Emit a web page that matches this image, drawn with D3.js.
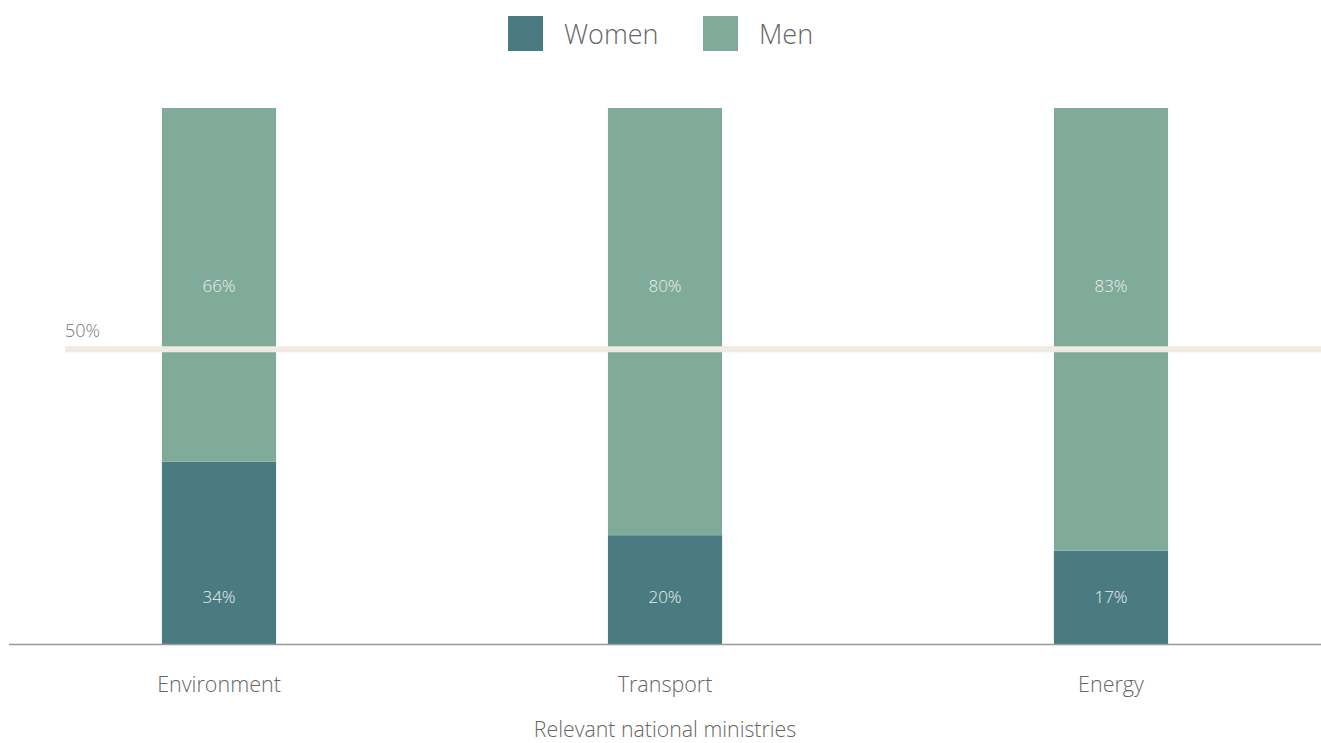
<!DOCTYPE html>
<html>
<head>
<meta charset="utf-8">
<script src="https://cdn.jsdelivr.net/npm/d3@7"></script>
<style>
  html, body { margin: 0; padding: 0; background: #ffffff; }
  svg { display: block; font-family: "Open Sans", "Segoe UI", sans-serif; }
</style>
</head>
<body>
<svg id="chart" width="1321" height="743"></svg>
<script>
// ---- data ----
const categories = ["Environment", "Transport", "Energy"];
const women = [34, 20.3, 17.4];
const men = [66, 79.7, 82.6];
const seriesNames = ["Women", "Men"];
const seriesColors = ["#4a7b83", "#80ab9b"];
const referenceLabel = "50%";
const referenceValue = 55;       // position where the reference line sits in the picture
const labelAnchorValues = [8.8, 66.8]; // value-level at which segment labels are printed
const xAxisTitle = "Relevant national ministries";

// ---- layout ----
const W = 1321, H = 743;
const svg = d3.select("#chart");

const x = d3.scaleBand()
  .domain(categories)
  .range([-4, 1334])
  .paddingInner(0.744)
  .paddingOuter(0.372);

const y = d3.scaleLinear().domain([0, 100]).range([644, 108]);

const stackData = categories.map((c, i) => ({ cat: c, Women: women[i], Men: men[i] }));
const stack = d3.stack().keys(seriesNames)(stackData);

// bars
const g = svg.append("g");
g.selectAll("g.series")
  .data(stack)
  .join("g")
  .attr("class", "series")
  .attr("fill", (d, i) => seriesColors[i])
  .selectAll("rect")
  .data(d => d)
  .join("rect")
  .attr("x", d => x(d.data.cat))
  .attr("width", x.bandwidth())
  .attr("y", d => y(d[1]))
  .attr("height", d => y(d[0]) - y(d[1]));

// reference line
svg.append("line")
  .attr("x1", 65).attr("x2", W)
  .attr("y1", y(referenceValue)).attr("y2", y(referenceValue))
  .attr("stroke", "#efebe1")
  .attr("stroke-width", 6);
svg.append("text")
  .attr("x", 65).attr("y", y(referenceValue) - 12)
  .attr("fill", "#777")
  .attr("font-size", 18)
  .attr("font-weight", 300)
  .text(referenceLabel);

// segment labels
stack.forEach((s, si) => {
  svg.append("g").selectAll("text")
    .data(s)
    .join("text")
    .attr("x", d => x(d.data.cat) + x.bandwidth() / 2)
    .attr("y", y(labelAnchorValues[si]))
    .attr("dy", "0.35em")
    .attr("text-anchor", "middle")
    .attr("fill", "#e8f0ee")
    .attr("font-size", 17)
    .attr("font-weight", 300)
    .text(d => Math.round(d[1] - d[0]) + "%");
});

// x axis
const xAxis = d3.axisBottom(x).tickSize(0).tickPadding(33);
const ax = svg.append("g").attr("transform", `translate(0,${y(0)})`).call(xAxis);
ax.select(".domain").remove();
ax.selectAll("text")
  .attr("font-family", "'Open Sans', sans-serif")
  .attr("font-size", 21.5)
  .attr("font-weight", 300)
  .attr("fill", "#666");
svg.append("line")
  .attr("x1", 9).attr("x2", W)
  .attr("y1", y(0) + 0.5).attr("y2", y(0) + 0.5)
  .attr("stroke", "#999")
  .attr("stroke-width", 1.5);

svg.append("text")
  .attr("x", x("Transport") + x.bandwidth() / 2)
  .attr("y", 737)
  .attr("text-anchor", "middle")
  .attr("font-size", 21.3)
  .attr("font-weight", 300)
  .attr("fill", "#666")
  .text(xAxisTitle);

// legend
const legendX = [508, 703];
const lg = svg.append("g");
seriesNames.forEach((n, i) => {
  lg.append("rect")
    .attr("x", legendX[i]).attr("y", 16)
    .attr("width", 35).attr("height", 35)
    .attr("fill", seriesColors[i]);
  lg.append("text")
    .attr("x", legendX[i] + 56).attr("y", 44)
    .attr("font-size", 27)
    .attr("font-weight", 300)
    .attr("fill", "#666")
    .text(n);
});
</script>
</body>
</html>
